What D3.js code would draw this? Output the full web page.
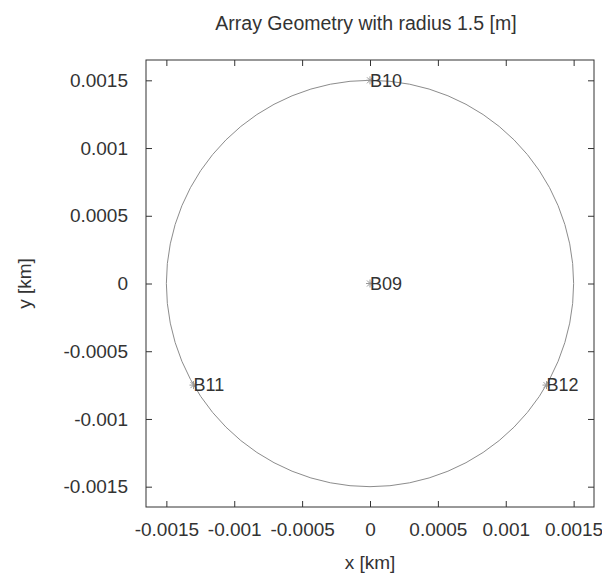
<!DOCTYPE html>
<html>
<head>
<meta charset="utf-8">
<script src="https://cdn.jsdelivr.net/npm/d3@7"></script>
<style>
  html, body { margin: 0; padding: 0; background: #fff; }
  svg { display: block; font-family: "Liberation Sans", Arial, sans-serif; }
</style>
</head>
<body>
<svg id="chart" width="602" height="575"></svg>
<script>
// Station names and positions (km)
const stations = ["B09", "B10", "B11", "B12"];
const stationX = [0, 0, -0.0013, 0.0013];
const stationY = [0, 0.0015, -0.00075, -0.00075];
// Array radius (km)
const arrayRadius = [0.0015];
// Axis ticks
const xTicks = [-0.0015, -0.001, -0.0005, 0, 0.0005, 0.001, 0.0015];
const yTicks = [-0.0015, -0.001, -0.0005, 0, 0.0005, 0.001, 0.0015];
const xTickLabels = ["-0.0015", "-0.001", "-0.0005", "0", "0.0005", "0.001", "0.0015"];
const yTickLabels = ["-0.0015", "-0.001", "-0.0005", "0", "0.0005", "0.001", "0.0015"];

const svg = d3.select("#chart");
const plotLeft = 146, plotRight = 594, plotTop = 60, plotBottom = 507;
const textColor = "#333";
const frameColor = "#333";
const fontSize = 19;

const x = d3.scaleLinear().domain([-0.00165, 0.00165]).range([plotLeft, plotRight]);
const y = d3.scaleLinear().domain([-0.00165, 0.00165]).range([plotBottom, plotTop]);

// Title
svg.append("text")
  .attr("x", 366).attr("y", 30)
  .attr("text-anchor", "middle")
  .attr("font-size", 19.5)
  .attr("fill", textColor)
  .text("Array Geometry with radius 1.5 [m]");

// Circle of the array radius
svg.append("ellipse")
  .attr("cx", x(0)).attr("cy", y(0))
  .attr("rx", x(arrayRadius[0]) - x(0))
  .attr("ry", y(0) - y(arrayRadius[0]))
  .attr("fill", "none")
  .attr("stroke", "#8c8c8c")
  .attr("stroke-width", 1);

// Axes with inward ticks, mirrored on opposite sides
const tickLen = 6;
const fmtX = (d, i) => xTickLabels[i];
const fmtY = (d, i) => yTickLabels[i];

svg.append("g")
  .attr("transform", `translate(0,${plotBottom})`)
  .call(d3.axisBottom(x).tickValues(xTicks).tickFormat(fmtX).tickSizeInner(-tickLen).tickSizeOuter(0).tickPadding(16))
  .call(g => g.select(".domain").remove());
svg.append("g")
  .attr("transform", `translate(0,${plotTop})`)
  .call(d3.axisTop(x).tickValues(xTicks).tickFormat("").tickSizeInner(-tickLen).tickSizeOuter(0))
  .call(g => g.select(".domain").remove());
svg.append("g")
  .attr("transform", `translate(${plotLeft},0)`)
  .call(d3.axisLeft(y).tickValues(yTicks).tickFormat(fmtY).tickSizeInner(-tickLen).tickSizeOuter(0).tickPadding(18))
  .call(g => g.select(".domain").remove());
svg.append("g")
  .attr("transform", `translate(${plotRight},0)`)
  .call(d3.axisRight(y).tickValues(yTicks).tickFormat("").tickSizeInner(-tickLen).tickSizeOuter(0))
  .call(g => g.select(".domain").remove());

svg.selectAll(".tick line").attr("stroke", frameColor);
svg.selectAll(".tick text")
  .attr("font-size", fontSize)
  .attr("fill", textColor)
  .attr("font-family", "Liberation Sans, Arial, sans-serif");

// Frame
svg.append("rect")
  .attr("x", plotLeft).attr("y", plotTop)
  .attr("width", plotRight - plotLeft).attr("height", plotBottom - plotTop)
  .attr("fill", "none")
  .attr("stroke", frameColor)
  .attr("stroke-width", 1);

// Axis labels
svg.append("text")
  .attr("x", 370).attr("y", 569)
  .attr("text-anchor", "middle")
  .attr("font-size", fontSize)
  .attr("fill", textColor)
  .text("x [km]");
svg.append("text")
  .attr("transform", `translate(31,${y(0)}) rotate(-90)`)
  .attr("text-anchor", "middle")
  .attr("font-size", fontSize)
  .attr("fill", textColor)
  .text("y [km]");

// Station markers (star) and labels
const starSize = 4;
const st = svg.append("g").selectAll("g")
  .data(stations.map((s, i) => ({ name: s, x: stationX[i], y: stationY[i] })))
  .join("g")
  .attr("transform", d => `translate(${x(d.x)},${y(d.y)})`);

st.append("path")
  .attr("d", `M${-starSize},0H${starSize}M0,${-starSize}V${starSize}` +
             `M${-starSize * 0.75},${-starSize * 0.75}L${starSize * 0.75},${starSize * 0.75}` +
             `M${-starSize * 0.75},${starSize * 0.75}L${starSize * 0.75},${-starSize * 0.75}`)
  .attr("stroke", "#999")
  .attr("stroke-width", 1)
  .attr("fill", "none");

st.append("text")
  .attr("x", 0)
  .attr("dy", "0.35em")
  .attr("font-size", 18)
  .attr("fill", textColor)
  .text(d => d.name);
</script>
</body>
</html>
